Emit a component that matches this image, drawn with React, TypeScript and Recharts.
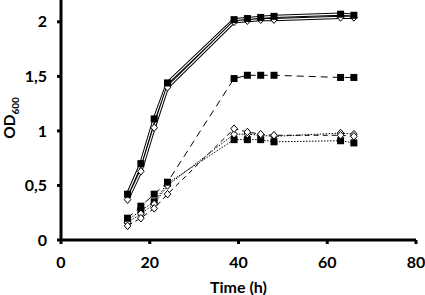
import React from "react";
import { LineChart, Line, XAxis, YAxis, Label } from "recharts";

const time = [15, 18, 21, 24, 39, 42, 45, 48, 63, 66];

// solid double lines
const solidSquares = [0.42, 0.7, 1.11, 1.44, 2.02, 2.03, 2.04, 2.05, 2.07, 2.06];
const solidDiamonds = [0.37, 0.63, 1.03, 1.4, 2.0, 2.01, 2.02, 2.02, 2.04, 2.04];
// long dashed
const dashedSquares = [0.2, 0.31, 0.42, 0.53, 1.48, 1.51, 1.51, 1.51, 1.49, 1.49];
const dashedDiamonds = [0.13, 0.2, 0.29, 0.42, 1.02, 0.99, 0.97, 0.96, 0.96, 0.95];
// dotted
const dottedSquares = [0.18, 0.27, 0.35, 0.52, 0.92, 0.92, 0.92, 0.9, 0.91, 0.89];
const dottedDiamonds = [0.16, 0.24, 0.33, 0.5, 0.97, 0.97, 0.96, 0.95, 0.98, 0.97];

const xTicks = [0, 20, 40, 60, 80];
const yTicks = [0, 0.5, 1, 1.5, 2];

const data = time.map((t, i) => ({
  t,
  solidSquares: solidSquares[i],
  solidDiamonds: solidDiamonds[i],
  dashedSquares: dashedSquares[i],
  dashedDiamonds: dashedDiamonds[i],
  dottedSquares: dottedSquares[i],
  dottedDiamonds: dottedDiamonds[i],
}));

const FONT = "Lato, 'Open Sans', sans-serif";
const tickStyle = { fill: "#000", fontSize: 16, fontWeight: 700, fontFamily: FONT };

const renderSquare = (props: any) => {
  const { cx, cy, index } = props;
  if (cx == null || cy == null) return <g key={`sq-${index}`} />;
  return <rect key={`sq-${index}`} x={cx - 3.5} y={cy - 3.5} width={7} height={7} fill="#000" />;
};

const renderDiamond = (props: any) => {
  const { cx, cy, index } = props;
  if (cx == null || cy == null) return <g key={`dm-${index}`} />;
  return (
    <polygon
      key={`dm-${index}`}
      points={`${cx},${cy - 3.8} ${cx + 3.3},${cy} ${cx},${cy + 3.8} ${cx - 3.3},${cy}`}
      fill="#fff"
      stroke="#000"
      strokeWidth={1}
    />
  );
};

const YLabel = () => (
  <text
    transform="translate(15, 118) rotate(-90)"
    textAnchor="middle"
    fill="#000"
    fontFamily={FONT}
    fontWeight={700}
    fontSize={15.5}
  >
    OD
    <tspan fontSize={10} dy={4}>
      600
    </tspan>
  </text>
);

export default function App() {
  return (
    <div style={{ position: "absolute", left: 0, top: 0, background: "#fff" }}>
      <LineChart
        width={425}
        height={295}
        data={data}
        margin={{ top: 0, right: 9, bottom: 0, left: 0 }}
      >
        <XAxis
          dataKey="t"
          type="number"
          domain={[0, 80]}
          ticks={xTicks}
          axisLine={{ stroke: "#000", strokeWidth: 3 }}
          tickLine={{ stroke: "#000", strokeWidth: 3 }}
          tickSize={4}
          tickMargin={13}
          tick={tickStyle}
          height={55}
        >
          <Label
            value="Time (h)"
            position="insideBottom"
            offset={2}
            style={{ fill: "#000", fontSize: 16, fontWeight: 700, fontFamily: FONT }}
          />
        </XAxis>
        <YAxis
          type="number"
          domain={[0, 2.2]}
          ticks={yTicks}
          tickFormatter={(v: number) => String(v).replace(".", ",")}
          axisLine={{ stroke: "#000", strokeWidth: 3 }}
          tickLine={{ stroke: "#000", strokeWidth: 3 }}
          tickSize={4}
          tickMargin={10}
          tick={tickStyle}
          width={61}
        >
          <Label content={<YLabel />} />
        </YAxis>

        {/* double lines: black outline then white core */}
        <Line dataKey="solidSquares" type="linear" stroke="#000" strokeWidth={3.2} dot={false} isAnimationActive={false} />
        <Line dataKey="solidSquares" type="linear" stroke="#fff" strokeWidth={1.2} dot={false} isAnimationActive={false} />
        <Line dataKey="solidDiamonds" type="linear" stroke="#000" strokeWidth={3.2} dot={false} isAnimationActive={false} />
        <Line dataKey="solidDiamonds" type="linear" stroke="#fff" strokeWidth={1.2} dot={false} isAnimationActive={false} />

        <Line dataKey="dottedSquares" type="linear" stroke="#000" strokeWidth={1} strokeDasharray="1.5 1.5" dot={renderSquare} isAnimationActive={false} />
        <Line dataKey="dottedDiamonds" type="linear" stroke="#000" strokeWidth={1} strokeDasharray="1.5 1.5" dot={renderDiamond} isAnimationActive={false} />
        <Line dataKey="dashedDiamonds" type="linear" stroke="#000" strokeWidth={1} strokeDasharray="5 4" dot={renderDiamond} isAnimationActive={false} />
        <Line dataKey="dashedSquares" type="linear" stroke="#000" strokeWidth={1} strokeDasharray="7 5" dot={renderSquare} isAnimationActive={false} />

        <Line dataKey="solidDiamonds" type="linear" stroke="none" dot={renderDiamond} isAnimationActive={false} />
        <Line dataKey="solidSquares" type="linear" stroke="none" dot={renderSquare} isAnimationActive={false} />
      </LineChart>
    </div>
  );
}
